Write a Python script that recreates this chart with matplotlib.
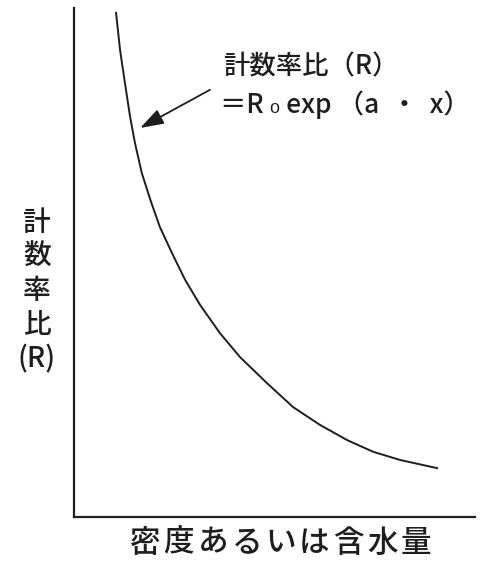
import matplotlib
matplotlib.use("Agg")
from matplotlib import pyplot as plt

plt.rcParams['font.family'] = ['Noto Sans CJK JP', 'DejaVu Sans']

# curve (arbitrary units, axes span 0..1)
xvals = [0.105, 0.115, 0.127, 0.140, 0.152, 0.169, 0.190, 0.214, 0.244, 0.277,
         0.314, 0.364, 0.414, 0.481, 0.546, 0.613, 0.681, 0.746, 0.813, 0.905]
yvals = [0.990, 0.917, 0.853, 0.786, 0.735, 0.676, 0.624, 0.570, 0.519, 0.466,
         0.417, 0.361, 0.314, 0.263, 0.216, 0.181, 0.151, 0.128, 0.112, 0.096]

ylabel = "計\n数\n率\n比\n(R)"
xlabel = "密度あるいは含水量"
note1 = "計数率比（R）"
note2 = "＝R ₀ exp （a  ・  x）"

ink = "#1e1e1e"
wt = "medium"

fig = plt.figure(figsize=(4.8, 5.76), dpi=100)
ax = fig.add_axes([0.154, 0.1024, 0.836, 0.884])

ax.plot(xvals, yvals, color=ink, lw=1.4, solid_joinstyle="round")
ax.set_xlim(0, 1)
ax.set_ylim(0, 1)
ax.set_xticks([])
ax.set_yticks([])
for s in ["top", "right"]:
    ax.spines[s].set_visible(False)
for s in ["left", "bottom"]:
    ax.spines[s].set_linewidth(1.6)
    ax.spines[s].set_color(ink)

ax.annotate("", xy=(0.165, 0.764), xytext=(0.339, 0.839),
            arrowprops=dict(arrowstyle="-|>,head_length=0.9,head_width=0.3",
                            color=ink, lw=1.3, mutation_scale=16,
                            shrinkA=0, shrinkB=0))
ax.text(0.372, 0.884, note1, fontsize=19, va="center", ha="left",
        color=ink, fontweight=wt)
ax.text(0.364, 0.809, note2, fontsize=19, va="center", ha="left",
        color=ink, fontweight=wt)

fig.text(0.077, 0.495, ylabel, fontsize=20, ha="center", va="center",
         linespacing=1.22, color=ink, fontweight=wt)

# x label, characters spread like the original
for i, ch in enumerate(xlabel):
    xc = (145 + i * 33.9) / 480
    fig.text(xc, 0.057, ch, fontsize=22, ha="center", va="center",
             color=ink, fontweight=wt)

fig.savefig("out.png", dpi=100)
